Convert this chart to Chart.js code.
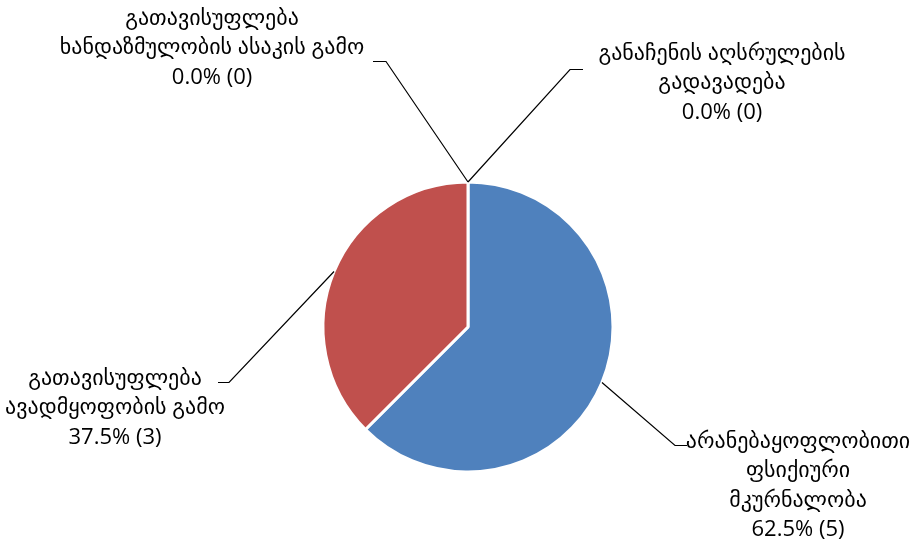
<!DOCTYPE html>
<html>
<head>
<meta charset="utf-8">
<script src="https://cdn.jsdelivr.net/npm/chart.js@4"></script>
<style>
  body { margin: 0; background: #fff; }
  #wrap { width: 922px; height: 549px; }
</style>
</head>
<body>
<div id="wrap"><canvas id="pieChart" width="922" height="549"></canvas></div>
<script>
/* ─────────── datos ─────────── */
const categories = [
  ["არანებაყოფლობითი", "ფსიქიური", "მკურნალობა"],
  ["გათავისუფლება", "ავადმყოფობის გამო"],
  ["გათავისუფლება", "ხანდაზმულობის ასაკის გამო"],
  ["განაჩენის აღსრულების", "გადავადება"]
];
const counts = [5, 3, 0, 0];
const sliceColors = ["#4F81BD", "#C0504D", "#9BBB59", "#8064A2"];

// posición de cada etiqueta respecto al centro del pastel (dx, dy de la primera línea,
// codo de la línea guía y extremo horizontal)
const labelLayout = [
  { dx: 330, dy: 121, ex: 207, ey: 118, hx: 219 },
  { dx: -353, dy: 58, ex: -239, ey: 55, hx: -250 },
  { dx: -256, dy: -302, ex: -82, ey: -266, hx: -95 },
  { dx: 254, dy: -267, ex: 102, ey: -258, hx: 115 }
];
const LINE_H = 29.3;

/* ─────────── plugin de etiquetas ─────────── */
const leaderLabels = {
  id: "leaderLabels",
  afterDatasetsDraw(chart) {
    const ctx = chart.ctx;
    const meta = chart.getDatasetMeta(0);
    const total = counts.reduce((a, b) => a + b, 0);
    ctx.save();
    meta.data.forEach((arc, i) => {
      const { x, y, startAngle, endAngle, outerRadius } = arc.getProps(
        ["x", "y", "startAngle", "endAngle", "outerRadius"], true);
      const mid = (startAngle + endAngle) / 2;
      const px = x + Math.cos(mid) * outerRadius;
      const py = y + Math.sin(mid) * outerRadius;
      const L = labelLayout[i];

      // línea guía
      ctx.strokeStyle = "#000";
      ctx.lineWidth = 1.2;
      ctx.beginPath();
      ctx.moveTo(px, py);
      ctx.lineTo(x + L.ex, y + L.ey + 0.5);
      ctx.lineTo(x + L.hx, y + L.ey + 0.5);
      ctx.stroke();

      // texto
      const pct = (counts[i] / total * 100).toFixed(1);
      const lines = categories[i].concat([`${pct}% (${counts[i]})`]);
      ctx.fillStyle = "#000";
      ctx.font = "22px 'Open Sans', 'DejaVu Sans', sans-serif";
      ctx.textAlign = "center";
      ctx.textBaseline = "alphabetic";
      lines.forEach((t, k) => {
        ctx.fillText(t, x + L.dx, y + L.dy + k * LINE_H);
      });
    });
    ctx.restore();
  }
};

/* ─────────── gráfico ─────────── */
new Chart(document.getElementById("pieChart"), {
  type: "pie",
  data: {
    labels: categories,
    datasets: [{
      data: counts,
      backgroundColor: sliceColors,
      borderColor: "#fff",
      borderWidth: 3,
      hoverOffset: 0
    }]
  },
  options: {
    responsive: false,
    animation: false,
    radius: 145,
    layout: { padding: { top: 182, bottom: 77, left: 323, right: 309 } },
    plugins: {
      legend: { display: false },
      tooltip: { enabled: false }
    }
  },
  plugins: [leaderLabels]
});
</script>
</body>
</html>
